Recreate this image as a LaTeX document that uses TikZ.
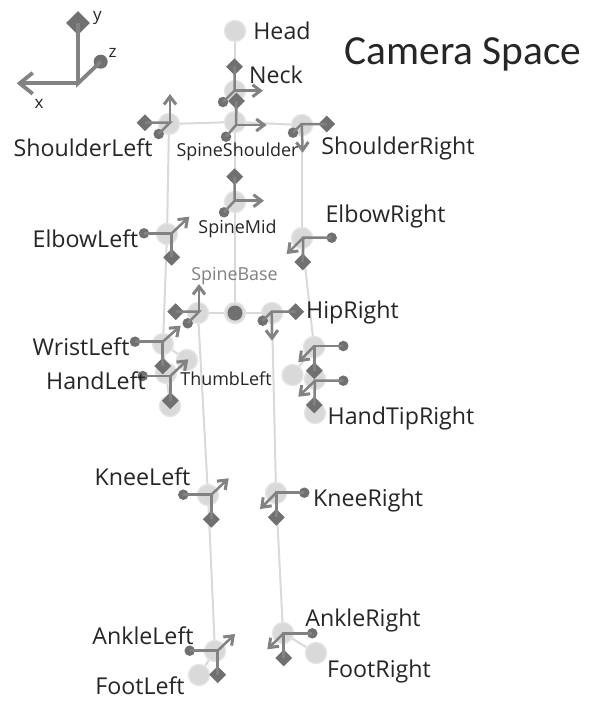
\documentclass[tikz,border=0pt]{standalone}
\usepackage{fontspec}
\setmainfont{Open Sans}
\newfontfamily\titlefont{Carlito}
\definecolor{bone}{HTML}{D9D9D9}
\definecolor{jointc}{HTML}{D9D9D9}
\definecolor{jointb}{HTML}{E4E4E4}
\definecolor{axisc}{HTML}{828282}
\definecolor{tipc}{HTML}{707070}
\definecolor{inkc}{HTML}{262626}
\usetikzlibrary{shapes.geometric,arrows.meta}
\tikzset{
 x=1pt,y=-1pt,
 bonestyle/.style={draw=bone,line width=2pt},
 jointstyle/.style={circle,fill=jointc,draw=jointb,line width=1.4pt,minimum size=21pt,inner sep=0pt},
 axisline/.style={draw=axisc,line width=2.5pt},
 axisarrow/.style={draw=axisc,line width=2.5pt,-{Straight Barb[length=8pt,width=12pt,line width=3pt]}},
 ytip/.style={diamond,fill=tipc,inner sep=0pt,minimum size=17pt},
 ztip/.style={circle,fill=tipc,inner sep=0pt,minimum size=10.5pt},
 big/.style={font=\fontsize{23.2}{24}\selectfont,text=inkc,inner sep=0pt},
 small/.style={font=\fontsize{17.9}{19}\selectfont,text=inkc,inner sep=0pt},
 axlabel/.style={font=\fontsize{17}{17}\selectfont,text=inkc,inner sep=0pt},
}
% name, origin, diamond, circle, arrow tip
\newcommand{\jaxes}[5]{%
 \coordinate (#1o) at (#2);
 \node[ytip] (#1y) at (#3) {};
 \node[ztip] (#1z) at (#4) {};
 \coordinate (#1x) at (#5);
 \draw[axisline] (#1y.center) -- (#1o) -- (#1z.center);
 \draw[axisarrow] (#1o) -- (#1x);
}
\begin{document}
\begin{tikzpicture}
\useasboundingbox (0,0) rectangle (590,715);
\fill[white] (0,0) rectangle (590,715);
% joints
\foreach \n/\p in {Head/{235,31},Neck/{235,91},SpineShoulder/{235,122},ShoulderLeft/{169,124},ShoulderRight/{302,125},SpineMid/{235,202},ElbowLeft/{167,234},ElbowRight/{302,238},SpineBase/{235,313},HipLeft/{198,313},HipRight/{272,313},WristLeft/{163,344},ThumbLeft/{187,360},HandLeft/{166,373},HandTipLeft/{170,406},WristRight/{314,347},ThumbRight/{292.5,375},HandRight/{315,379},HandTipRight/{315,413},KneeLeft/{208,495},KneeRight/{276,493},AnkleLeft/{215,651},FootLeft/{199,675},AnkleRight/{283,633},FootRight/{316,653}}
 \node[jointstyle] (\n) at (\p) {};
% bones
\foreach \a/\b in {Head/Neck,Neck/SpineShoulder,SpineShoulder/ShoulderLeft,SpineShoulder/ShoulderRight,SpineShoulder/SpineMid,SpineMid/SpineBase,ShoulderLeft/ElbowLeft,ShoulderRight/ElbowRight,ElbowLeft/WristLeft,WristLeft/ThumbLeft,WristLeft/HandLeft,HandLeft/HandTipLeft,ElbowRight/WristRight,WristRight/ThumbRight,WristRight/HandRight,HandRight/HandTipRight,SpineBase/HipLeft,SpineBase/HipRight,HipLeft/KneeLeft,HipRight/KneeRight,KneeLeft/AnkleLeft,KneeRight/AnkleRight,AnkleLeft/FootLeft,AnkleRight/FootRight}
 \draw[bonestyle] (\a) -- (\b);
\node[circle,fill=tipc,inner sep=0pt,minimum size=15pt] (SpineBaseCore) at (SpineBase) {};
% joint axes
\jaxes{n}{234.5,90.7}{234.5,66.7}{223,102}{263,90.7}
\jaxes{ss}{236,125}{236.5,101}{226,136.7}{266.7,125}
\jaxes{sl}{170,122.7}{145,122.7}{158.7,134}{170,94}
\jaxes{sr}{301.7,124}{326.7,124}{293,132.7}{302.7,152.7}
\jaxes{sm}{234.7,200.7}{234.7,176.7}{224,212.3}{264,200.7}
\jaxes{el}{171.7,233.3}{171.7,257.3}{144,233.3}{189.3,216.7}
\jaxes{er}{303.3,237.7}{302.7,262}{331.7,237.7}{286.7,254}
\jaxes{hl}{199,311.7}{175.7,311.7}{187.7,323.3}{199,284}
\jaxes{hr}{271.7,311.7}{295.7,311.7}{262.7,320.7}{272,340.7}
\jaxes{wl}{162.7,341.7}{162.7,366}{135,341.7}{180.7,325.7}
\jaxes{hdl}{170.3,376}{170.3,400.7}{142.7,376}{188.3,359.3}
\jaxes{wr}{314.3,346}{314.3,370.7}{343.3,346}{298.3,362.3}
\jaxes{hdr}{315,380.7}{314.3,405}{343.3,380.7}{298.3,396.7}
\jaxes{kl}{211.3,494.7}{211.3,519.3}{183.3,494.7}{228.7,478.3}
\jaxes{kr}{276.3,492.7}{276.3,517.3}{304.3,492.7}{260,509}
\jaxes{al}{217.7,650.7}{217.7,674.7}{189.7,650.7}{235,634}
\jaxes{ar}{283.7,633.3}{283.7,658}{312.3,633.3}{267.3,649.3}
% camera axes
\coordinate (co) at (78,83.3);
\node[diamond,fill=tipc,inner sep=0pt,minimum size=24pt] (cy) at (78,23) {};
\node[circle,fill=tipc,inner sep=0pt,minimum size=14pt] (cz) at (100.7,61.7) {};
\coordinate (cx) at (16.7,83.3);
\draw[axisc,line width=3.8pt] (cy.center) -- (co) -- (cz.center);
\draw[axisc,line width=3.8pt,-{Straight Barb[length=13pt,width=21pt,line width=3.8pt]}] (co) -- (cx);
% labels
\node[axlabel] (lx) at (39,104) {x};
\node[axlabel] (ly) at (97.5,18) {y};
\node[axlabel] (lz) at (112.5,53) {z};
\node[font=\titlefont\fontsize{41.4}{42}\selectfont,text=inkc,inner sep=0pt] (title) at (463,54) {Camera Space};
\node[big] (t1) at (282,31) {Head};
\node[big] (t2) at (276,75) {Neck};
\node[big] (t3) at (83,148) {ShoulderLeft};
\node[small] (t4) at (237.5,152) {SpineShoulder};
\node[big] (t5) at (398,148) {ShoulderRight};
\node[big] (t6) at (85.5,239) {ElbowLeft};
\node[small] (t7) at (237.5,229) {SpineMid};
\node[big] (t8) at (385.5,216) {ElbowRight};
\node[small,text=black!50] (t9) at (234.5,276) {SpineBase};
\node[big] (t10) at (352.5,312) {HipRight};
\node[big] (t11) at (81,347) {WristLeft};
\node[big] (t12) at (96,381) {HandLeft};
\node[small] (t13) at (226,379) {ThumbLeft};
\node[big] (t14) at (401,418) {HandTipRight};
\node[big] (t15) at (142.5,477) {KneeLeft};
\node[big] (t16) at (368,500) {KneeRight};
\node[big] (t17) at (363,620) {AnkleRight};
\node[big] (t18) at (143,636) {AnkleLeft};
\node[big] (t19) at (379,671) {FootRight};
\node[big] (t20) at (140,686) {FootLeft};
\end{tikzpicture}
\end{document}
